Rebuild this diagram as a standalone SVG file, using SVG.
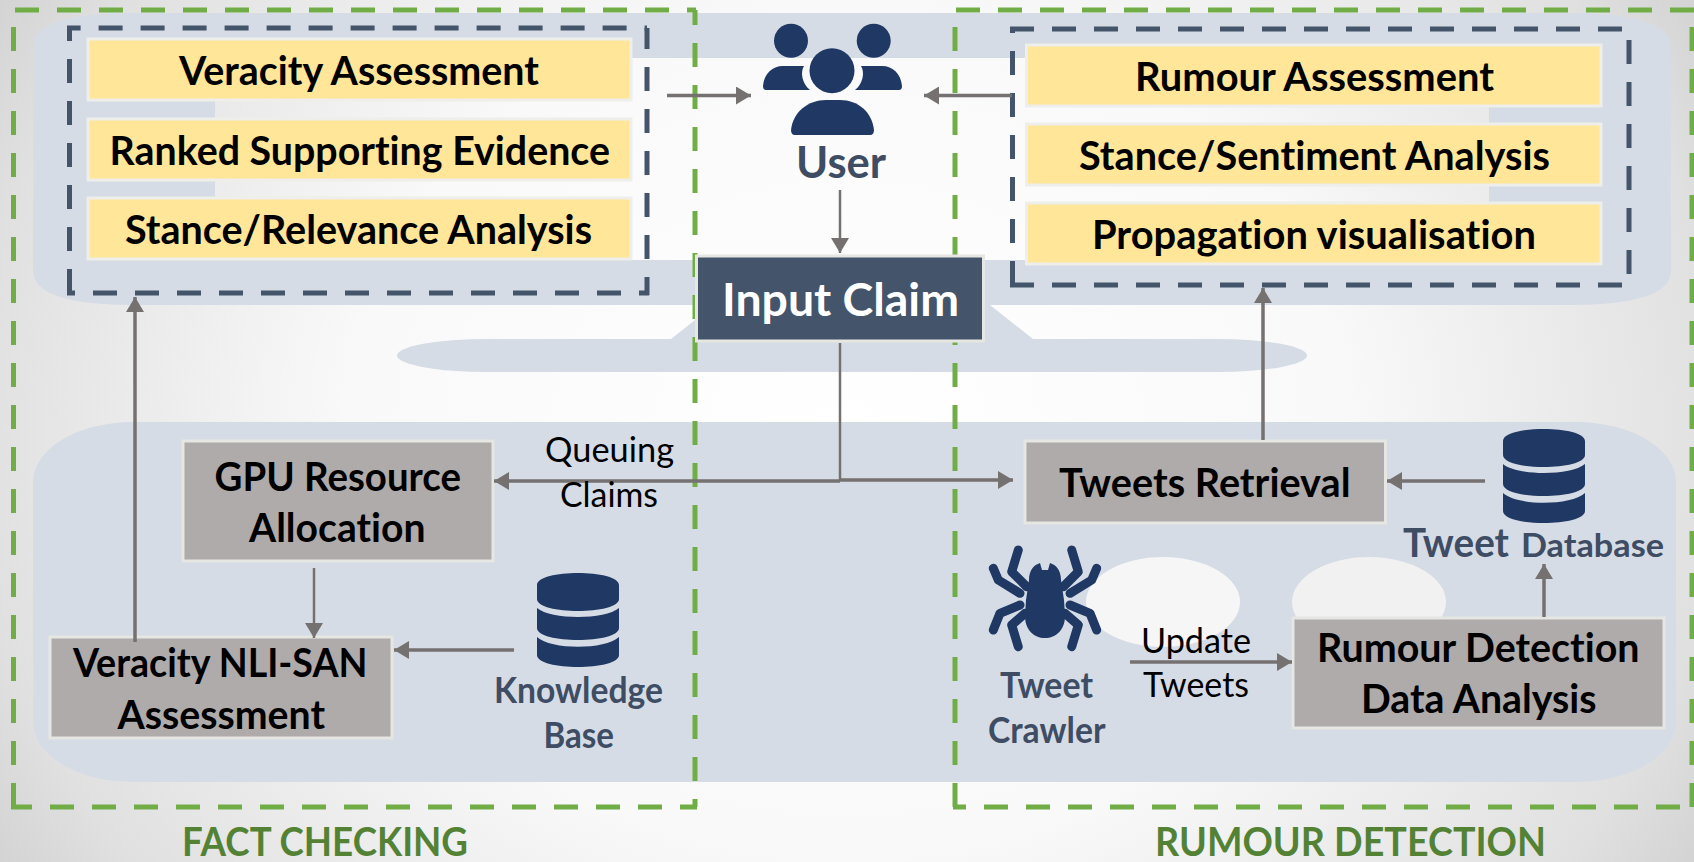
<svg xmlns="http://www.w3.org/2000/svg" width="1694" height="862" viewBox="0 0 1694 862">
<style>
text{font-family:Lato,"Liberation Sans",sans-serif;text-anchor:start;font-variant-ligatures:none}
.b{font-weight:700;font-size:40px;fill:#000}
.n{font-weight:700;font-size:36px;fill:#3E4D64}
.r{font-size:35px;fill:#000}
.g{font-weight:700;font-size:40px;fill:#548235}
.y{fill:#FFE699;stroke:#eeeeea;stroke-width:3}
.q{fill:#AFABAB;stroke:#e6e6e2;stroke-width:3}
.pn{fill:#D6DCE5}
.dg{fill:none;stroke:#70AD47;stroke-width:5;stroke-dasharray:24 18}
.dn{fill:none;stroke:#44546A;stroke-width:5;stroke-dasharray:24 18}
.c{fill:none;stroke:#767171;stroke-width:3.5}
.t{fill:none;stroke:#767171;stroke-width:2.5}
.ic{fill:#1F3864}
.lg{fill:none;stroke:#1F3864;stroke-width:9;stroke-linecap:round;stroke-linejoin:round}
</style>
<defs>
<radialGradient id="bg" gradientUnits="userSpaceOnUse" cx="847" cy="431" r="1000" gradientTransform="translate(847 431) scale(1 .85) translate(-847 -431)">
<stop offset="0" stop-color="#ffffff"/><stop offset=".5" stop-color="#f9f9f9"/><stop offset=".88" stop-color="#e0e0e0"/><stop offset="1" stop-color="#d2d2d2"/>
</radialGradient>
<marker id="a" markerUnits="userSpaceOnUse" markerWidth="16" markerHeight="18" refX="15" refY="9" orient="auto"><path d="M0 0L15 9L0 18z" fill="#767171"/></marker>
<g id="db"><path class="ic" d="M0 12C0 -4 82 -4 82 12V26C82 42 0 42 0 26zM0 35C14 47 68 47 82 35V55C82 71 0 71 0 55zM0 64C14 77 68 77 82 64V82C82 98 0 98 0 82z"/></g>
</defs>
<rect width="1694" height="862" fill="url(#bg)"/>
<g id="panels">
<path class="pn" fill-rule="evenodd" d="M133 13H1571C1635 13 1671 24 1671 47V271C1671 294 1635 305 1571 305H133C69 305 33 294 33 271V47C33 24 69 13 133 13ZM215 58V260H1489V58Z"/>
<path class="pn" d="M714 305L671 339H1033L990 305Z"/>
<rect class="pn" x="397" y="339" width="910" height="33" rx="90" ry="16.500"/>
<rect class="pn" x="33" y="422" width="1643" height="360" rx="100" ry="60"/>
<ellipse cx="1163" cy="602" rx="77" ry="45" fill="#f6f6f6"/>
<ellipse cx="1369" cy="602" rx="77" ry="45" fill="#f1f1f1"/>
</g>
<g id="frames">
<path class="dg" d="M15 10H696"/>
<path class="dg" d="M695 10V807" stroke-dashoffset="9"/>
<path class="dg" d="M11 807H697" stroke-dashoffset="3"/>
<path class="dg" d="M13.500 27V807"/>
<path class="dg" d="M956 10H1694"/>
<path class="dg" d="M955 27V807"/>
<path class="dg" d="M953 807H1694" stroke-dashoffset="11"/>
<path class="dg" d="M1692 27V807"/>
<path class="dn" d="M67 28H647" stroke-dashoffset="10.400"/>
<path class="dn" d="M647 28V295" stroke-dashoffset="3"/>
<path class="dn" d="M69.500 26V295" stroke-dashoffset="9"/>
<path class="dn" d="M67 293H649" stroke-dashoffset="16"/>
<path class="dn" d="M1010 29H1625"/>
<path class="dn" d="M1629 40V285"/>
<path class="dn" d="M1012.500 27V287" stroke-dashoffset="18"/>
<path class="dn" d="M1010 285H1625"/>
</g>
<g id="veracity-assessment"><rect class="y" x="88" y="39" width="543" height="61"/><text class="b" x="179" y="84.500" textLength="360" lengthAdjust="spacingAndGlyphs">Veracity Assessment</text></g>
<g id="ranked-evidence"><rect class="y" x="88" y="119" width="543" height="61"/><text class="b" x="109.500" y="164.500" textLength="500.500" lengthAdjust="spacingAndGlyphs">Ranked Supporting Evidence</text></g>
<g id="stance-relevance"><rect class="y" x="88" y="198" width="543" height="61"/><text class="b" x="125" y="243.500" textLength="467" lengthAdjust="spacingAndGlyphs">Stance/Relevance Analysis</text></g>
<g id="rumour-assessment"><rect class="y" x="1026.500" y="45" width="574.500" height="61"/><text class="b" x="1135" y="90.500" textLength="359" lengthAdjust="spacingAndGlyphs">Rumour Assessment</text></g>
<g id="stance-sentiment"><rect class="y" x="1026.500" y="124" width="574.500" height="61"/><text class="b" x="1079" y="169.500" textLength="471" lengthAdjust="spacingAndGlyphs">Stance/Sentiment Analysis</text></g>
<g id="propagation"><rect class="y" x="1026.500" y="203" width="574.500" height="61"/><text class="b" x="1092" y="248.500" textLength="444" lengthAdjust="spacingAndGlyphs">Propagation visualisation</text></g>
<g id="user">
<circle class="ic" cx="791" cy="40.700" r="17"/>
<circle class="ic" cx="873.700" cy="40.700" r="17"/>
<path class="ic" d="M763 86C764 74 772 66 783 66H804C800 72 802 84 810 90H766Q763 90 763 86Z"/>
<path class="ic" d="M902 86C901 74 893 66 882 66H861C865 72 863 84 855 90H899Q902 90 902 86Z"/>
<circle class="ic" cx="832" cy="70.700" r="22.500"/>
<path class="ic" d="M791 130C793 112 808 100 826 100H840C858 100 872 112 874 130Q874 135 870 135H795Q791 135 791 130Z"/>
<text class="n" style="font-size:44px" x="796" y="178" textLength="90" lengthAdjust="spacingAndGlyphs">User</text>
</g>
<g id="input-claim"><rect x="696.500" y="256" width="287" height="85" fill="#44546A" stroke="#e6e6e2" stroke-width="3"/><text class="b" style="font-size:46px;fill:#fff" x="722" y="315.500" textLength="237" lengthAdjust="spacingAndGlyphs">Input Claim</text></g>
<g id="gpu"><rect class="q" x="183" y="441" width="310" height="120"/><text class="b" x="214.500" y="490.500" textLength="246.500" lengthAdjust="spacingAndGlyphs">GPU Resource</text><text class="b" x="249" y="541.500" textLength="176.500" lengthAdjust="spacingAndGlyphs">Allocation</text></g>
<g id="veracity-nli"><rect class="q" x="50" y="637" width="342" height="101"/><text class="b" x="73" y="677" textLength="294.500" lengthAdjust="spacingAndGlyphs">Veracity NLI-SAN</text><text class="b" x="117.500" y="729" textLength="207.500" lengthAdjust="spacingAndGlyphs">Assessment</text></g>
<g id="knowledge-base"><use href="#db" x="537" y="573"/><text class="n" x="494" y="703" textLength="169" lengthAdjust="spacingAndGlyphs">Knowledge</text><text class="n" x="543.500" y="748" textLength="70.500" lengthAdjust="spacingAndGlyphs">Base</text></g>
<g id="tweets-retrieval"><rect class="q" x="1025" y="441" width="360.500" height="82"/><text class="b" x="1059" y="496.500" textLength="291.500" lengthAdjust="spacingAndGlyphs">Tweets Retrieval</text></g>
<g id="tweet-database"><use href="#db" x="1503" y="429"/><text class="n" style="font-size:40px" x="1403" y="557" textLength="106" lengthAdjust="spacingAndGlyphs">Tweet</text><text class="n" style="font-size:33px" x="1521" y="557" textLength="143" lengthAdjust="spacingAndGlyphs">Database</text></g>
<g id="tweet-crawler">
<path class="lg" d="M1020 593.300L998.300 580L993.300 568.300"/>
<path class="lg" d="M1026.700 586.700L1011.700 571.700L1018.300 550"/>
<path class="lg" d="M1020 605L1000 613.300L993.300 630"/>
<path class="lg" d="M1025 613.300L1011.700 625L1018.300 646.700"/>
<path class="lg" d="M1070 593.300L1091.700 580L1096.700 568.300"/>
<path class="lg" d="M1063.300 586.700L1078.300 571.700L1071.700 550"/>
<path class="lg" d="M1070 605L1090 613.300L1096.700 630"/>
<path class="lg" d="M1065 613.300L1078.300 625L1071.700 646.700"/>
<path class="ic" d="M1029 580C1029 570 1034 565 1040 563L1042 570H1048L1050 563C1056 565 1061 570 1061 580L1064 600L1065 616C1065 630 1056 638 1045 638C1034 638 1025 630 1025 616L1026 600Z"/>
<text class="n" x="1000" y="697.500" textLength="93" lengthAdjust="spacingAndGlyphs">Tweet</text><text class="n" x="988" y="742.500" textLength="117.500" lengthAdjust="spacingAndGlyphs">Crawler</text></g>
<g id="rumour-detection"><rect class="q" x="1293" y="618" width="371" height="110"/><text class="b" x="1317" y="662" textLength="322.500" lengthAdjust="spacingAndGlyphs">Rumour Detection</text><text class="b" x="1361" y="713" textLength="235.500" lengthAdjust="spacingAndGlyphs">Data Analysis</text></g>
<g id="connectors">
<path class="c" d="M667 95.500H751" marker-end="url(#a)"/>
<path class="c" d="M1012 95.500H924" marker-end="url(#a)"/>
<path class="t" d="M840 190V253" marker-end="url(#a)"/>
<path class="t" d="M840 343V481"/>
<path class="c" d="M840 481H494" marker-end="url(#a)"/>
<path class="c" d="M840 480H1013" marker-end="url(#a)"/>
<path class="c" d="M135 642V297" marker-end="url(#a)"/>
<path class="t" d="M314 568V638" marker-end="url(#a)"/>
<path class="c" d="M514 650H394" marker-end="url(#a)"/>
<path class="c" d="M1263 440V288" marker-end="url(#a)"/>
<path class="c" d="M1485 481H1387" marker-end="url(#a)"/>
<path class="c" d="M1544 617V564" marker-end="url(#a)"/>
<path class="c" d="M1130 662H1292" marker-end="url(#a)"/>
</g>
<g id="labels">
<text class="r" x="545" y="461.500" textLength="129" lengthAdjust="spacingAndGlyphs">Queuing</text>
<text class="r" x="560" y="507" textLength="98" lengthAdjust="spacingAndGlyphs">Claims</text>
<text class="r" x="1141" y="652.500" textLength="110" lengthAdjust="spacingAndGlyphs">Update</text>
<text class="r" x="1143" y="697" textLength="106" lengthAdjust="spacingAndGlyphs">Tweets</text>
<text class="g" x="182" y="856" textLength="286" lengthAdjust="spacingAndGlyphs">FACT CHECKING</text>
<text class="g" x="1155" y="856" textLength="391" lengthAdjust="spacingAndGlyphs">RUMOUR DETECTION</text>
</g>
</svg>
